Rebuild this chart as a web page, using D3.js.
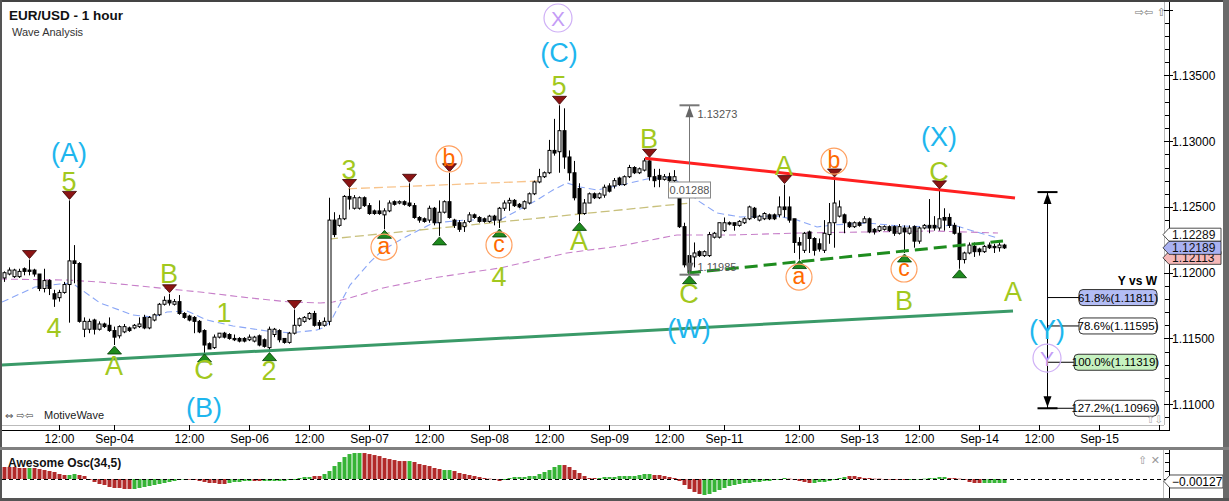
<!DOCTYPE html>
<html><head><meta charset="utf-8">
<script src="https://cdn.jsdelivr.net/npm/d3@7/dist/d3.min.js"></script>
<style>
html,body{margin:0;padding:0;background:#fff;}
svg{display:block;font-family:"Liberation Sans",Arial,sans-serif;}
.ico{font-family:"DejaVu Sans",sans-serif;}
</style></head><body>
<svg id="chart" width="1229" height="501"></svg>
<script>
// ---------------- DATA ----------------
const opens = [1.1196,1.1199,1.1197,1.1197,1.1203,1.1202,1.1202,1.1199,1.1188,1.1194,1.1184,1.1181,1.1185,1.1191,1.1209,1.1207,1.1157,1.1157,1.1164,1.1157,
1.1161,1.1160,1.1156,1.1152,1.1155,1.1158,1.1158,1.1159,1.1166,1.1158,1.1164,1.1168,1.1176,1.1179,1.1176,1.1178,1.1169,1.1167,1.1166,1.1163,
1.1156,1.1146,1.1143,1.1151,1.1154,1.1153,1.1150,1.1150,1.1150,1.1149,1.1148,1.1152,1.1149,1.1143,1.1153,1.1156,1.1150,1.1147,1.1154,1.1160,
1.1163,1.1165,1.1169,1.1162,1.1160,1.1163,1.1240,1.1236,1.1241,1.1258,1.1249,1.1249,1.1257,1.1251,1.1247,1.1247,1.1244,1.1247,1.1254,1.1253,
1.1254,1.1253,1.1251,1.1242,1.1241,1.1240,1.1249,1.1238,1.1246,1.1254,1.1240,1.1238,1.1235,1.1239,1.1244,1.1242,1.1241,1.1239,1.1243,1.1240,
1.1249,1.1253,1.1255,1.1252,1.1249,1.1253,1.1260,1.1269,1.1273,1.1276,1.1293,1.1292,1.1308,1.1288,1.1276,1.1264,1.1245,1.1253,1.1260,1.1257,
1.1259,1.1266,1.1266,1.1272,1.1267,1.1273,1.1280,1.1276,1.1278,1.1285,1.1273,1.1274,1.1271,1.1273,1.1270,1.1263,1.1235,1.1213,1.1212,1.1216,
1.1213,1.1213,1.1227,1.1227,1.1232,1.1238,1.1238,1.1236,1.1238,1.1241,1.1249,1.1240,1.1241,1.1244,1.1244,1.1244,1.1250,1.1250,1.1241,1.1223,
1.1217,1.1231,1.1226,1.1222,1.1217,1.1229,1.1238,1.1243,1.1244,1.1238,1.1235,1.1238,1.1238,1.1241,1.1233,1.1232,1.1233,1.1235,1.1235,1.1230,
1.1234,1.1230,1.1235,1.1224,1.1234,1.1236,1.1236,1.1234,1.1242,1.1242,1.1236,1.1230,1.1210,1.1215,1.1220,1.1218,1.1216,1.1221,1.1220,1.1219,
1.1221];
const highs = [1.1201,1.1204,1.1203,1.1203,1.1204,1.1210,1.1203,1.1199,1.1203,1.1195,1.1187,1.1187,1.1193,1.1255,1.1221,1.1208,1.1166,1.1165,1.1165,1.1163,
1.1162,1.1166,1.1159,1.1160,1.1161,1.1159,1.1161,1.1166,1.1168,1.1167,1.1169,1.1177,1.1182,1.1184,1.1180,1.1183,1.1170,1.1168,1.1167,1.1164,
1.1157,1.1147,1.1153,1.1154,1.1155,1.1154,1.1153,1.1151,1.1151,1.1153,1.1152,1.1153,1.1150,1.1159,1.1158,1.1157,1.1150,1.1155,1.1172,1.1166,
1.1167,1.1170,1.1171,1.1164,1.1166,1.1257,1.1246,1.1244,1.1259,1.1264,1.1259,1.1258,1.1258,1.1253,1.1248,1.1255,1.1249,1.1255,1.1255,1.1255,
1.1255,1.1268,1.1253,1.1243,1.1242,1.1251,1.1250,1.1255,1.1255,1.1276,1.1241,1.1240,1.1240,1.1246,1.1245,1.1243,1.1242,1.1244,1.1244,1.1250,
1.1255,1.1257,1.1256,1.1253,1.1255,1.1261,1.1270,1.1279,1.1277,1.1301,1.1317,1.13273,1.1325,1.1293,1.1285,1.1268,1.1256,1.1261,1.1261,1.1261,
1.1267,1.1268,1.1272,1.1273,1.1274,1.1282,1.1281,1.1280,1.1287,1.1287,1.1279,1.1279,1.1275,1.1276,1.1278,1.1265,1.1238,1.1215,1.1223,1.1217,
1.1217,1.1231,1.1231,1.1238,1.1242,1.1239,1.1238,1.1240,1.1242,1.1251,1.1250,1.1244,1.1246,1.1245,1.1245,1.1258,1.1267,1.1258,1.1241,1.1227,
1.1231,1.1232,1.1227,1.1226,1.1240,1.1253,1.1272,1.1255,1.1245,1.1239,1.1239,1.1239,1.1243,1.1242,1.1234,1.1236,1.1236,1.1236,1.1236,1.1237,
1.1236,1.1236,1.1236,1.1235,1.1237,1.1256,1.1243,1.1263,1.1249,1.1245,1.1238,1.1235,1.1216,1.1223,1.1223,1.1219,1.1221,1.1223,1.1222,1.1223,
1.1222];
const lows = [1.1193,1.1198,1.1196,1.1196,1.1198,1.1198,1.1197,1.1186,1.1185,1.1183,1.1174,1.1178,1.1184,1.1162,1.1192,1.1162,1.1151,1.1154,1.1153,1.1156,
1.1158,1.1155,1.1145,1.1150,1.1154,1.1155,1.1157,1.1158,1.1157,1.1157,1.1163,1.1167,1.1175,1.1175,1.1175,1.1168,1.1165,1.1163,1.1154,1.1154,
1.1139,1.1142,1.1142,1.1150,1.1150,1.1149,1.1148,1.1147,1.1147,1.1148,1.1147,1.1144,1.1143,1.1140,1.1151,1.1147,1.1146,1.1146,1.1153,1.1159,
1.1162,1.1164,1.1159,1.1157,1.1159,1.1160,1.1227,1.1235,1.1240,1.1248,1.1248,1.1248,1.1250,1.1244,1.1244,1.1244,1.1233,1.1246,1.1251,1.1252,
1.1251,1.1250,1.1241,1.1238,1.1238,1.1238,1.1236,1.1228,1.1245,1.1241,1.1234,1.1231,1.1231,1.1238,1.1241,1.1238,1.1238,1.1238,1.1236,1.1234,
1.1247,1.1247,1.1250,1.1249,1.1248,1.1252,1.1259,1.1268,1.1272,1.1275,1.1289,1.1276,1.1279,1.1270,1.1255,1.1239,1.1244,1.1253,1.1256,1.1256,
1.1257,1.1261,1.1264,1.1266,1.1266,1.1272,1.1275,1.1275,1.1277,1.1270,1.1265,1.1265,1.1270,1.1267,1.1265,1.1234,1.1204,1.11985,1.1204,1.1212,
1.1212,1.1212,1.1226,1.1226,1.1231,1.1236,1.1232,1.1235,1.1237,1.1240,1.1241,1.1239,1.1240,1.1240,1.1240,1.1242,1.1242,1.1238,1.1215,1.1210,
1.1215,1.1215,1.1213,1.1216,1.1215,1.1222,1.1219,1.1242,1.1230,1.1234,1.1234,1.1235,1.1238,1.1230,1.1229,1.1231,1.1232,1.1231,1.1228,1.1229,
1.1215,1.1229,1.1219,1.1222,1.1233,1.1230,1.1232,1.1232,1.1232,1.1234,1.1229,1.1203,1.1207,1.1214,1.1212,1.1213,1.1215,1.1218,1.1215,1.1216,
1.1218];
const closes = [1.1200,1.1202,1.1202,1.1201,1.1201,1.1201,1.1199,1.1188,1.1194,1.1188,1.1180,1.1185,1.1191,1.1209,1.1207,1.1163,1.1163,1.1163,1.1157,1.1161,
1.1159,1.1156,1.1151,1.1159,1.1159,1.1156,1.1160,1.1161,1.1158,1.1166,1.1168,1.1176,1.1179,1.1177,1.1178,1.1169,1.1166,1.1164,1.1163,1.1155,
1.1145,1.1142,1.1151,1.1154,1.1151,1.1150,1.1149,1.1148,1.1148,1.1151,1.1151,1.1145,1.1144,1.1157,1.1157,1.1149,1.1147,1.1154,1.1160,1.1165,
1.1166,1.1169,1.1160,1.1160,1.1163,1.1240,1.1229,1.1241,1.1258,1.1256,1.1257,1.1257,1.1251,1.1245,1.1245,1.1245,1.1247,1.1253,1.1252,1.1254,
1.1252,1.1251,1.1242,1.1240,1.1239,1.1249,1.1238,1.1246,1.1254,1.1242,1.1236,1.1233,1.1238,1.1244,1.1242,1.1239,1.1239,1.1243,1.1240,1.1249,
1.1253,1.1255,1.1251,1.1250,1.1254,1.1260,1.1269,1.1273,1.1276,1.1293,1.1291,1.1308,1.1288,1.1276,1.1257,1.1245,1.1253,1.1260,1.1257,1.1260,
1.1265,1.1262,1.1270,1.1267,1.1273,1.1280,1.1276,1.1279,1.1285,1.1273,1.1270,1.1271,1.1273,1.1270,1.1273,1.1235,1.1206,1.1200,1.1215,1.1213,
1.1216,1.1229,1.1230,1.1238,1.1238,1.1237,1.1236,1.1239,1.1241,1.1250,1.1242,1.1243,1.1245,1.1241,1.1241,1.1250,1.1248,1.1240,1.1223,1.1221,
1.1230,1.1226,1.1217,1.1218,1.1230,1.1238,1.1253,1.1250,1.1238,1.1235,1.1238,1.1236,1.1241,1.1231,1.1231,1.1235,1.1235,1.1232,1.1230,1.1235,
1.1231,1.1234,1.1224,1.1234,1.1236,1.1234,1.1234,1.1241,1.1240,1.1236,1.1230,1.1210,1.1215,1.1221,1.1216,1.1216,1.1220,1.1219,1.1219,1.1221,
1.12189];

const aoValues = [0.00382,0.00382,0.00382,0.00350,0.00350,0.00350,0.00350,0.00318,0.00286,0.00254,0.00223,0.00159,0.00127,0.00127,0.00159,0.00127,0.00095,
-0.00032,-0.00095,-0.00159,-0.00191,-0.00254,-0.00286,-0.00286,-0.00318,-0.00318,-0.00318,-0.00286,-0.00254,-0.00223,-0.00191,-0.00159,-0.00127,-0.00095,-0.00064,-0.00032,-0.0001,
-0.0001,-0.00032,-0.00064,-0.00095,-0.00127,-0.00127,-0.00159,-0.00159,-0.00127,-0.00095,-0.00095,-0.00064,-0.00064,-0.00064,-0.00064,-0.00064,-0.00064,-0.00064,-0.00064,-0.00064,-0.00032,-0.00032,
0.00032,0.00064,0.00064,0.00095,0.00095,0.00159,0.00254,0.00413,0.00541,0.00700,0.00795,0.00827,0.00827,0.00827,0.00795,0.00763,0.00731,0.00668,0.00636,0.00604,0.00572,0.00572,0.00572,
0.00541,0.00477,0.00445,0.00413,0.00350,0.00318,0.00286,0.00286,0.00254,0.00191,0.00159,0.00127,0.00095,0.00064,0.00032,0.0001,-0.00032,-0.00064,-0.00032,
0.00032,0.00064,0.00064,0.00064,0.00095,0.00095,0.00159,0.00223,0.00286,0.00382,0.00445,0.00445,0.00382,0.00286,0.00191,0.00095,0.00032,0.00032,0.00032,0.00064,0.00064,
0.00064,0.00095,0.00095,0.00095,0.00095,0.00127,0.00159,0.00159,0.00127,0.00127,0.00095,0.00064,0.00032,-0.00064,-0.00191,-0.00318,-0.00413,-0.00477,-0.00509,
-0.00477,-0.00413,-0.00350,-0.00286,-0.00223,-0.00191,-0.00159,-0.00127,-0.00127,-0.00095,-0.00095,-0.00064,-0.00064,-0.00032,-0.00032,0.00032,0.0001,-0.00032,-0.00064,-0.00095,-0.00127,
-0.00127,-0.00095,-0.00095,-0.00064,-0.00032,0.00032,0.00064,0.00095,0.00095,0.00064,0.00032,0.00032,0.0001,0.0001,-0.0001,-0.0001,-0.00032,-0.00032,-0.00032,
-0.00032,-0.00032,-0.0001,0.0001,0.00032,0.00032,0.00064,0.00064,0.00032,0.00032,0.0001,-0.00032,-0.00095,-0.00127,-0.00127,-0.00127,-0.00127,-0.00127,-0.00127,-0.00127];
const aoColors = ("rrrrrgrrrrrrrggrr"+"rrrrrrrrrggggggggggg"+"rrrrrrrrgggggrrggggggg"+"gggrrggggggggrrrrrrrrrg"+
  "rrrrrrggrrrrrrrrrrg"+"gggggggggggrrrrrrrggg"+"ggggggggrrrrrrrrrrg"+"ggggggggggggggggrrrrr"+
  "gggggggrrrrrrrrrrrr"+"ggggggggrrrrrrrggggg").split("");
const aoLast = -0.00127;

const xTickIndex  = [11,22,37,49,61,73,85,97,109,121,133,144,159,171,183,195,207,219,231];
const xTickLabels = ["12:00","Sep-04","12:00","Sep-06","12:00","Sep-07","12:00","Sep-08","12:00","Sep-09","12:00","Sep-11","12:00","Sep-13","12:00","Sep-14","12:00","Sep-15",""];
const yTickValues = [1.110,1.115,1.120,1.125,1.130,1.135];

// moving averages: [barIndex, price]
const fastMA = [[-0.4,1.11777],[6.2,1.11891],[11.2,1.11914],[13.6,1.11922],[19.2,1.11770],[25.8,1.11678],[29.8,1.11663],[32.6,1.11701],[36.6,1.11709],[40.6,1.11640],[45.8,1.11595],[52.6,1.11557],[57.2,1.11542],[62.6,1.11564],[64.2,1.11587],[65.8,1.11663],[69.2,1.11906],[73.2,1.12081],[75.8,1.12173],[79.2,1.12249],[85.8,1.12378],[92.6,1.12401],[99.2,1.12401],[101.8,1.12454],[106.6,1.12553],[109.8,1.12629],[112.6,1.12682],[115.2,1.12652],[118.6,1.12629],[125.2,1.12682],[128.6,1.12713],[133.8,1.12728],[138.6,1.12553],[142.6,1.12454],[147.2,1.12424],[154.6,1.12431],[158.6,1.12401],[162.6,1.12348],[165.8,1.12363],[172.6,1.12378],[179.2,1.12355],[185.8,1.12348],[189.8,1.12363],[195.2,1.12302],[198.8,1.12264]];
const slowMA = [[-0.8,1.11952],[12.6,1.11944],[19.2,1.11929],[29.2,1.11891],[39.2,1.11853],[49.2,1.11808],[57.2,1.11777],[63.2,1.11770],[65.8,1.11777],[69.2,1.11808],[75.8,1.11884],[85.8,1.11960],[99.2,1.12036],[112.6,1.12150],[123.2,1.12203],[134.6,1.12287],[145.8,1.12287],[159.2,1.12302],[172.6,1.12310],[185.8,1.12317],[198.8,1.12302]];
const orangeGuide = [[68.8,1.12638],[107.2,1.12698]];
const khakiGuide  = [[65,1.12256],[137.2,1.12530]];
const greenTrend  = [[-0.8,1.11298],[201.8,1.11709]];
const redTrend    = [[128.2,1.12870],[202.2,1.12568]];
const greenDashed = [[136.8,1.11998],[199.8,1.12241]];

const highMarks = [5,13,33,58,69,81,89,111,129,156,166,187];
const lowMarks  = [22,40,53,76,87,99,115,137,159,180,191];

const waveLabels = [[13,1.12697,"5"],[10,1.11587,"4"],[22,1.11298,"A"],[33,1.11998,"B"],[44,1.11701,"1"],[40,1.11268,"C"],[53,1.11260,"2"],[69,1.12789,"3"],[99,1.11975,"4"],[111,1.13427,"5"],[115,1.12249,"A"],[129,1.13024,"B"],[137,1.11846,"C"],[156,1.12819,"A"],[180,1.11792,"B"],[187,1.12773,"C"],[201.8,1.11861,"A"]];
const cyanLabels = [[13,1.12918,"(A)"],[40,1.10979,"(B)"],[111,1.13678,"(C)"],[137,1.11579,"(W)"],[187,1.13040,"(X)"],[208.6,1.11572,"(Y)"]];
const violetLabels = [[110.8,1.13937,"X"],[208.6,1.11351,"Y"]];
const orangeLabels = [[76,1.12195,"a"],[89,1.12865,"b"],[99,1.12211,"c"],[159,1.11967,"a"],[166,1.12849,"b"],[180,1.12028,"c"]];

const measureIndex = 137, measureTop = 1.13273, measureBottom = 1.11985, measureDiff = "0.01288";
const fibIndex = 208.6, fibTop = 1.12613;
const fibPcts = ["61.8%","78.6%","100.0%","127.2%"];
const fibValues = [1.11811,1.11595,1.11319,1.10969];
const priceTagValues = [1.12289,1.12113,1.12189];

// ---------------- DRAW ----------------
const svg = d3.select('#chart');
const x = d3.scaleLinear().domain([0,233]).range([4,1169]);
const y = d3.scaleLinear().domain([1.12,1.13]).range([272.7,141.2]);
const yo = d3.scaleLinear().domain([0,0.01]).range([479,447.6]);
const f5 = d3.format('.5f');

svg.append('rect').attr('width',1229).attr('height',501).attr('fill','#fff');
const defs = svg.append('defs');
defs.append('clipPath').attr('id','plot').append('rect').attr('x',2).attr('y',2).attr('width',1162).attr('height',423);

const g = svg.append('g').attr('clip-path','url(#plot)');
const ln = d3.line().x(d=>x(d[0])).y(d=>y(d[1]));

// indicator/guide lines
g.append('path').attr('d',ln(slowMA)).attr('fill','none').attr('stroke','#c77fc9').attr('stroke-width',1.1).attr('stroke-dasharray','7,4');
g.append('path').attr('d',ln(fastMA)).attr('fill','none').attr('stroke','#8aa6f6').attr('stroke-width',1.1).attr('stroke-dasharray','7,4');
g.append('path').attr('d',ln(orangeGuide)).attr('fill','none').attr('stroke','#f8c48c').attr('stroke-width',1.3).attr('stroke-dasharray','9,4');
g.append('path').attr('d',ln(khakiGuide)).attr('fill','none').attr('stroke','#c8c07c').attr('stroke-width',1.3).attr('stroke-dasharray','9,4');

// candles
const candles = d3.range(opens.length).map(i=>({i,o:opens[i],h:highs[i],l:lows[i],c:closes[i]}));
const cg = g.append('g');
cg.selectAll('line').data(candles).join('line')
  .attr('x1',d=>Math.round(x(d.i))+0.5).attr('x2',d=>Math.round(x(d.i))+0.5)
  .attr('y1',d=>y(d.h)).attr('y2',d=>y(d.l)).attr('stroke','#000').attr('stroke-width',1);
cg.selectAll('rect').data(candles).join('rect')
  .attr('x',d=>Math.round(x(d.i))-1).attr('width',3)
  .attr('y',d=>y(Math.max(d.o,d.c)))
  .attr('height',d=>Math.max(1,Math.abs(y(d.o)-y(d.c))))
  .attr('fill',d=>d.c>=d.o?'#fff':'#000').attr('stroke','#000').attr('stroke-width',1);

// trend lines
g.append('path').attr('d',ln(greenTrend)).attr('stroke','#3a9a68').attr('stroke-width',3).attr('fill','none');
g.append('path').attr('d',ln(redTrend)).attr('stroke','#ff2020').attr('stroke-width',3).attr('fill','none');
g.append('path').attr('d',ln(greenDashed)).attr('stroke','#1e8c1e').attr('stroke-width',3).attr('fill','none').attr('stroke-dasharray','13,6');

// swing markers
g.selectAll('path.hm').data(highMarks).join('path').attr('class','hm')
  .attr('d',i=>{const cx=Math.round(x(i))+0.5, yy=y(highs[i])-1; return `M${cx-7},${yy-8}L${cx+7},${yy-8}L${cx},${yy}Z`;})
  .attr('fill','#8b1414').attr('stroke','#3a0000').attr('stroke-width',0.8);
g.selectAll('path.lm').data(lowMarks).join('path').attr('class','lm')
  .attr('d',i=>{const cx=Math.round(x(i))+0.5, yy=y(lows[i])+1; return `M${cx-7},${yy+8}L${cx+7},${yy+8}L${cx},${yy}Z`;})
  .attr('fill','#1e8a1e').attr('stroke','#003a00').attr('stroke-width',0.8);

// measurement tool
{
  const mx = Math.round(x(measureIndex))+0.5, yt=y(measureTop), yb=y(measureBottom);
  const mg = g.append('g');
  mg.append('line').attr('x1',mx).attr('x2',mx).attr('y1',yt).attr('y2',yb).attr('stroke','#777');
  mg.append('line').attr('x1',mx-10).attr('x2',mx+10).attr('y1',yt).attr('y2',yt).attr('stroke','#777').attr('stroke-width',2);
  mg.append('line').attr('x1',mx-10).attr('x2',mx+10).attr('y1',yb).attr('y2',yb).attr('stroke','#777').attr('stroke-width',2);
  mg.append('path').attr('d',`M${mx},${yt+1}L${mx-4},${yt+12}L${mx+4},${yt+12}Z`).attr('fill','#666');
  mg.append('path').attr('d',`M${mx},${yb-1}L${mx-4},${yb-12}L${mx+4},${yb-12}Z`).attr('fill','#666');
  mg.append('text').attr('x',mx+8).attr('y',yt+13).attr('font-size',11).attr('fill','#555').text(f5(measureTop));
  mg.append('text').attr('x',mx+8).attr('y',yb-4).attr('font-size',11).attr('fill','#555').text(f5(measureBottom));
  const ym=(yt+yb)/2;
  mg.append('rect').attr('x',mx-21).attr('y',ym-8).attr('width',42).attr('height',16).attr('fill','#fff').attr('stroke','#888');
  mg.append('text').attr('x',mx).attr('y',ym+4).attr('text-anchor','middle').attr('font-size',11).attr('fill','#555').text(measureDiff);
}

// fib tool
{
  const fx = Math.round(x(fibIndex))+0.5, yt=y(fibTop), yb=y(fibValues[3]);
  const fg = g.append('g');
  fg.append('line').attr('x1',fx).attr('x2',fx).attr('y1',yt).attr('y2',yb).attr('stroke','#000');
  fg.append('line').attr('x1',fx-10).attr('x2',fx+10).attr('y1',yt).attr('y2',yt).attr('stroke','#000').attr('stroke-width',2);
  fg.append('line').attr('x1',fx-10).attr('x2',fx+10).attr('y1',yb).attr('y2',yb).attr('stroke','#000').attr('stroke-width',2);
  fg.append('path').attr('d',`M${fx},${yt+1}L${fx-4},${yt+12}L${fx+4},${yt+12}Z`).attr('fill','#000');
  fg.append('path').attr('d',`M${fx},${yb-1}L${fx-4},${yb-12}L${fx+4},${yb-12}Z`).attr('fill','#000');
  const fills = ['#b3bcf4','#ffffff','#c6f2c0','#ffffff'];
  const lefts = [1079,1079,1074,1074];
  fibValues.forEach((v,k)=>{
    const yy = y(v);
    fg.append('line').attr('x1',fx).attr('x2',lefts[k]).attr('y1',yy).attr('y2',yy).attr('stroke','#000');
  });
  fg.append('text').attr('x',1157).attr('y',y(fibValues[0])-13).attr('text-anchor','end').attr('font-size',12).attr('font-weight','bold').text('Y vs W');
  fibValues.forEach((v,k)=>{
    const yy = y(v);
    fg.append('rect').attr('x',lefts[k]).attr('y',yy-8).attr('width',1157-lefts[k]).attr('height',16).attr('rx',4)
      .attr('fill',fills[k]).attr('stroke','#333');
    fg.append('text').attr('x',(lefts[k]+1157)/2).attr('y',yy+4).attr('text-anchor','middle').attr('font-size',11.5)
      .text(`${fibPcts[k]}(${f5(v)})`);
  });
}

// labels
const lg = g.append('g').attr('text-anchor','middle');
lg.selectAll('text.w').data(waveLabels).join('text').attr('class','w')
  .attr('x',d=>x(d[0])).attr('y',d=>y(d[1])).attr('dy','0.36em').attr('font-size',27).attr('fill','#a2c81e').text(d=>d[2]);
lg.selectAll('text.cy').data(cyanLabels).join('text').attr('class','cy')
  .attr('x',d=>x(d[0])).attr('y',d=>y(d[1])).attr('dy','0.36em').attr('font-size',27).attr('fill','#1eb6ee').text(d=>d[2]);
lg.selectAll('circle.vi').data(violetLabels).join('circle').attr('class','vi')
  .attr('cx',d=>x(d[0])).attr('cy',d=>y(d[1])).attr('r',14).attr('fill','none').attr('stroke','#cfb0f6').attr('stroke-width',1.2);
lg.selectAll('text.vi').data(violetLabels).join('text').attr('class','vi')
  .attr('x',d=>x(d[0])).attr('y',d=>y(d[1])).attr('dy','0.36em').attr('font-size',21).attr('fill','#c49cf6').text(d=>d[2]);
lg.selectAll('circle.or').data(orangeLabels).join('circle').attr('class','or')
  .attr('cx',d=>x(d[0])).attr('cy',d=>y(d[1])).attr('r',13).attr('fill','none').attr('stroke','#ffa060').attr('stroke-width',1.2);
lg.selectAll('text.or').data(orangeLabels).join('text').attr('class','or')
  .attr('x',d=>x(d[0])).attr('y',d=>y(d[1])).attr('dy','0.3em').attr('font-size',23).attr('fill','#ff6a00').text(d=>d[2]);

// title
svg.append('text').attr('x',9).attr('y',20).attr('font-size',13.5).attr('font-weight','bold').attr('fill','#111').text('EUR/USD - 1 hour');
svg.append('text').attr('x',12).attr('y',36).attr('font-size',11).attr('fill','#333').text('Wave Analysis');
svg.append('text').attr('class','ico').attr('x',5).attr('y',419).attr('font-size',10).attr('fill','#444').text('⇔ ⇨⇦');
svg.append('text').attr('x',44).attr('y',419).attr('font-size',11).attr('fill','#222').text('MotiveWave');
svg.append('text').attr('class','ico').attr('x',1166).attr('y',16).attr('text-anchor','end').attr('font-size',11).attr('fill','#777').text('⇨⇦ ⇧');
svg.append('text').attr('class','ico').attr('x',1163).attr('y',423).attr('text-anchor','end').attr('font-size',10).attr('fill','#aaa').text('⇧⇩');

// plot borders & axes
svg.append('line').attr('x1',1164.5).attr('x2',1164.5).attr('y1',2).attr('y2',425).attr('stroke','#bbb');
svg.append('line').attr('x1',2).attr('x2',1164).attr('y1',425.5).attr('y2',425.5).attr('stroke','#bbb');
svg.append('line').attr('x1',1169.5).attr('x2',1169.5).attr('y1',2).attr('y2',431).attr('stroke','#000');
svg.append('line').attr('x1',2).attr('x2',1170).attr('y1',430.5).attr('y2',430.5).attr('stroke','#000');

// x axis
const xa = svg.append('g');
xTickIndex.forEach((t,k)=>{
  const xx = Math.round(x(t))+0.5;
  xa.append('line').attr('x1',xx).attr('x2',xx).attr('y1',425).attr('y2',430).attr('stroke','#000');
  xa.append('text').attr('x',xx).attr('y',443).attr('text-anchor','middle').attr('font-size',12).text(xTickLabels[k]);
});

// y axis
const ya = svg.append('g');
d3.range(1109,1141).forEach(m=>{
  const v = m/1000, yy = Math.round(y(v))+0.5;
  const major = m%5===0;
  ya.append('line').attr('x1',major?1164:1165).attr('x2',major?1173:1169).attr('y1',yy).attr('y2',yy).attr('stroke','#000');
});
yTickValues.forEach(v=>{
  ya.append('text').attr('x',1172).attr('y',y(v)).attr('dy','0.36em').attr('font-size',12).text(f5(v));
});
// price tags
const tagFill = {0:'#ffffff',1:'#f5b8b8',2:'#aab2f2'};
priceTagValues.forEach((v,k)=>{
  const yy = y(v);
  ya.append('path').attr('d',`M1163,${yy}L1169,${yy-6.5}L1221,${yy-6.5}L1221,${yy+6.5}L1169,${yy+6.5}Z`)
    .attr('fill',tagFill[k]).attr('stroke','#222').attr('stroke-width',0.8);
  ya.append('text').attr('x',1172).attr('y',yy).attr('dy','0.36em').attr('font-size',12).attr('fill','#111').text(f5(v));
});

// ---------------- oscillator ----------------
const og = svg.append('g');
og.append('text').attr('x',8).attr('y',467).attr('font-size',12).attr('font-weight','bold').attr('fill','#111').text('Awesome Osc(34,5)');
og.selectAll('rect').data(aoValues).join('rect')
  .attr('x',(d,i)=>Math.round(x(i))-1.5).attr('width',4)
  .attr('y',d=>Math.min(yo(d),yo(0))).attr('height',d=>Math.max(0.6,Math.abs(yo(d)-yo(0))))
  .attr('fill',(d,i)=>aoColors[i]==='g'?'#36b436':'#b22a2a');
og.append('line').attr('x1',2).attr('x2',1169).attr('y1',yo(0)+0.5).attr('y2',yo(0)+0.5).attr('stroke','#000').attr('stroke-dasharray','4,3');
og.append('line').attr('x1',1163.5).attr('x2',1163.5).attr('y1',450).attr('y2',498).attr('stroke','#bbb');
og.append('line').attr('x1',1169.5).attr('x2',1169.5).attr('y1',450).attr('y2',498).attr('stroke','#000');
[453,462,471].forEach(t=>og.append('line').attr('x1',1165).attr('x2',1169).attr('y1',t+0.5).attr('y2',t+0.5).attr('stroke','#000'));
og.append('text').attr('class','ico').attr('x',1160).attr('y',464).attr('text-anchor','end').attr('font-size',11).attr('fill','#999').text('⇧ ✕');
{
  const yy = yo(aoLast)-1.5;
  og.append('path').attr('d',`M1164,${yy}L1170,${yy-6.5}L1223,${yy-6.5}L1223,${yy+6.5}L1170,${yy+6.5}Z`).attr('fill','#fff').attr('stroke','#222').attr('stroke-width',0.8);
  og.append('text').attr('x',1172).attr('y',yy).attr('dy','0.36em').attr('font-size',12).text(d3.format('.5f')(aoLast));
}

// frame
const fr = '#6a6a6a';
svg.append('rect').attr('x',0).attr('y',0).attr('width',1229).attr('height',2).attr('fill','#444');
svg.append('rect').attr('x',0).attr('y',0).attr('width',2).attr('height',501).attr('fill','#555');
svg.append('rect').attr('x',1223).attr('y',0).attr('width',6).attr('height',501).attr('fill',fr);
svg.append('rect').attr('x',0).attr('y',447).attr('width',1229).attr('height',3).attr('fill','#808080');
svg.append('rect').attr('x',0).attr('y',498).attr('width',1229).attr('height',3).attr('fill','#555');
</script>
</body></html>
